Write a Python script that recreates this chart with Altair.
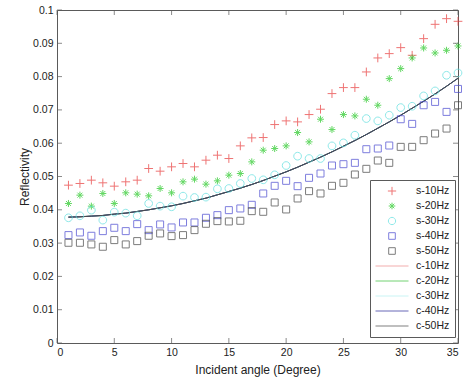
import altair as alt
import pandas as pd

# Incident angles (degrees) at which reflectivity was measured
angles = list(range(1, 36))

# Measured reflectivity for each source frequency
s_10hz = [0.0474, 0.0479, 0.0489, 0.0481, 0.0471, 0.0484, 0.0489, 0.0524, 0.0516, 0.0529,
          0.0539, 0.0529, 0.0549, 0.0564, 0.0554, 0.0592, 0.0616, 0.0617, 0.0656, 0.0667,
          0.0664, 0.0686, 0.0702, 0.0749, 0.0767, 0.0767, 0.0814, 0.0856, 0.0869, 0.0887,
          0.0864, 0.0914, 0.0957, 0.0974, 0.0966]
s_20hz = [0.0419, 0.0444, 0.0411, 0.0449, 0.0419, 0.0451, 0.0447, 0.0442, 0.0464, 0.0451,
          0.0484, 0.0492, 0.0477, 0.0487, 0.0504, 0.0509, 0.0544, 0.0579, 0.0584, 0.0592,
          0.0632, 0.0604, 0.0672, 0.0641, 0.0686, 0.0682, 0.0732, 0.0714, 0.0794, 0.0824,
          0.0856, 0.0886, 0.0871, 0.0879, 0.0892]
s_30hz = [0.0376, 0.0382, 0.0399, 0.0369, 0.0393, 0.0390, 0.0382, 0.0419, 0.0411, 0.0409,
          0.0441, 0.0437, 0.0438, 0.0463, 0.0464, 0.0479, 0.0494, 0.0490, 0.0505, 0.0533,
          0.0561, 0.0554, 0.0554, 0.0592, 0.0601, 0.0624, 0.0674, 0.0667, 0.0684, 0.0707,
          0.0711, 0.0742, 0.0757, 0.0804, 0.0811]
s_40hz = [0.0324, 0.0332, 0.0322, 0.0336, 0.0346, 0.0336, 0.0357, 0.0339, 0.0356, 0.0347,
          0.0362, 0.0362, 0.0376, 0.0384, 0.0399, 0.0404, 0.0415, 0.0449, 0.0472, 0.0487,
          0.0471, 0.0496, 0.0509, 0.0533, 0.0537, 0.0541, 0.0582, 0.0584, 0.0593, 0.0672,
          0.0658, 0.0714, 0.0724, 0.0694, 0.0763]
s_50hz = [0.0301, 0.0301, 0.0296, 0.0289, 0.0309, 0.0296, 0.0306, 0.0322, 0.0329, 0.0321,
          0.0324, 0.0339, 0.0358, 0.0366, 0.0365, 0.0367, 0.0396, 0.0394, 0.0422, 0.0401,
          0.0434, 0.0456, 0.0449, 0.0472, 0.0481, 0.0506, 0.0523, 0.0548, 0.0541, 0.0589,
          0.0589, 0.0609, 0.0629, 0.0644, 0.0714]

# Computed reflectivity curve (identical for all frequencies)
c_model = [0.0378, 0.0379, 0.0381, 0.0383, 0.0387, 0.0390, 0.0395, 0.0400, 0.0406, 0.0412,
           0.0419, 0.0427, 0.0435, 0.0445, 0.0455, 0.0465, 0.0476, 0.0488, 0.0501, 0.0514,
           0.0528, 0.0543, 0.0558, 0.0574, 0.0591, 0.0608, 0.0626, 0.0645, 0.0664, 0.0684,
           0.0705, 0.0726, 0.0748, 0.0771, 0.0795]
c_10hz = c_model
c_20hz = c_model
c_30hz = c_model
c_40hz = c_model
c_50hz = c_model

s_names = ["s-10Hz", "s-20Hz", "s-30Hz", "s-40Hz", "s-50Hz"]
c_names = ["c-10Hz", "c-20Hz", "c-30Hz", "c-40Hz", "c-50Hz"]
series_order = s_names + c_names

series_colors = ["#e83a3a", "#22c822", "#5fe0e0", "#4848d0", "#454545",
                 "#ee8c8c", "#38c038", "#b4f0f0", "#2a2a9a", "#4a4a4a"]

# Marker outlines: plus, asterisk, circle, square, square; lines for the curves
plus_path = "M-0.25,0L0.25,0M0,-0.25L0,0.25"
star_path = ("M-0.2,0L0.2,0M0,-0.2L0,0.2M-0.14,-0.14L0.14,0.14"
             "M-0.14,0.14L0.14,-0.14")
circle_path = "M0.22,0A0.22,0.22,0,1,1,-0.22,0A0.22,0.22,0,1,1,0.22,0Z"
square_path = "M-0.2,-0.2L0.2,-0.2L0.2,0.2L-0.2,0.2Z"
series_shapes = [plus_path, star_path, circle_path, square_path, square_path,
                 "stroke", "stroke", "stroke", "stroke", "stroke"]

x_ticks = [0, 5, 10, 15, 20, 25, 30, 35]
y_ticks = [0, 0.01, 0.02, 0.03, 0.04, 0.05, 0.06, 0.07, 0.08, 0.09, 0.1]

measured = pd.DataFrame(
    [(a, v, name)
     for name, vals in zip(s_names, [s_10hz, s_20hz, s_30hz, s_40hz, s_50hz])
     for a, v in zip(angles, vals)],
    columns=["angle", "reflectivity", "series"],
)
computed = pd.DataFrame(
    [(a, v, name, i)
     for i, (name, vals) in enumerate(zip(c_names, [c_10hz, c_20hz, c_30hz, c_40hz, c_50hz]))
     for a, v in zip(angles, vals)],
    columns=["angle", "reflectivity", "series", "draw_order"],
)
x_tick_df = pd.DataFrame({"tick": x_ticks})
y_tick_df = pd.DataFrame({"tick": y_ticks})

x_scale = alt.Scale(domain=[0, 35], nice=False, zero=False)
y_scale = alt.Scale(domain=[0, 0.1], nice=False, zero=False)

color_scale = alt.Scale(domain=series_order, range=series_colors)
shape_scale = alt.Scale(domain=series_order, range=series_shapes)

legend = alt.Legend(
    title=None, orient="none", legendX=313, legendY=170,
    fillColor="white", strokeColor="#5a5a5a", padding=5,
    rowPadding=3, clipHeight=12, symbolSize=1089, symbolStrokeWidth=1,
    labelOffset=7, labelFontSize=10.5, labelColor="#222222",
    labelFont="Liberation Sans",
)

x_axis = alt.Axis(
    values=x_ticks, format="d", title="Incident angle (Degree)",
    ticks=False, domain=False, grid=False, labelPadding=4,
    titleY=26, titleBaseline="middle",
)
y_axis = alt.Axis(
    values=y_ticks, labelExpr="format(datum.value, '.2~f')",
    title="Reflectivity", ticks=False, domain=False, grid=False,
    labelPadding=4, titleX=-33, titleY=166.5, titleBaseline="middle",
)


def x_enc(field):
    return alt.X(field, scale=x_scale, axis=x_axis, title="Incident angle (Degree)")


def y_enc(field):
    return alt.Y(field, scale=y_scale, axis=y_axis, title="Reflectivity")


points = alt.Chart(measured).mark_point(filled=False, size=1225, strokeWidth=1).encode(
    x=x_enc("angle:Q"),
    y=y_enc("reflectivity:Q"),
    color=alt.Color("series:N", scale=color_scale, legend=legend),
    shape=alt.Shape("series:N", scale=shape_scale, legend=legend),
)

curves = alt.Chart(computed).mark_line(strokeWidth=1).encode(
    x=x_enc("angle:Q"),
    y=y_enc("reflectivity:Q"),
    color=alt.Color("series:N", scale=color_scale, legend=legend),
    order=alt.Order("draw_order:Q"),
)

# Inward-pointing tick marks on all four sides of the box
tick_color = "#5a5a5a"
bottom_ticks = alt.Chart(x_tick_df).mark_tick(
    orient="vertical", size=5, thickness=1, yOffset=-2.5, color=tick_color
).encode(x=x_enc("tick:Q"), y=alt.YDatum(0, scale=y_scale, axis=y_axis, title="Reflectivity"))
top_ticks = alt.Chart(x_tick_df).mark_tick(
    orient="vertical", size=5, thickness=1, yOffset=2.5, color=tick_color
).encode(x=x_enc("tick:Q"), y=alt.YDatum(0.1, scale=y_scale, axis=y_axis, title="Reflectivity"))
left_ticks = alt.Chart(y_tick_df).mark_tick(
    orient="horizontal", size=5, thickness=1, xOffset=2.5, color=tick_color
).encode(y=y_enc("tick:Q"), x=alt.XDatum(0, scale=x_scale, axis=x_axis, title="Incident angle (Degree)"))
right_ticks = alt.Chart(y_tick_df).mark_tick(
    orient="horizontal", size=5, thickness=1, xOffset=-2.5, color=tick_color
).encode(y=y_enc("tick:Q"), x=alt.XDatum(35, scale=x_scale, axis=x_axis, title="Incident angle (Degree)"))

chart = alt.layer(
    curves, points, bottom_ticks, top_ticks, left_ticks, right_ticks
).properties(
    width=401, height=333,
    padding={"left": 57, "top": 10, "right": 7, "bottom": 40},
    autosize=alt.AutoSizeParams(type="none"),
    background="white",
).configure_view(
    stroke="#5a5a5a", strokeWidth=1
).configure_axis(
    labelFont="Liberation Sans", titleFont="Liberation Sans",
    labelFontSize=10.5, titleFontSize=12, labelColor="#222222",
    titleColor="#222222", titleFontWeight="normal",
)

chart.save("out.html", embed_options={"renderer": "svg", "actions": False})
